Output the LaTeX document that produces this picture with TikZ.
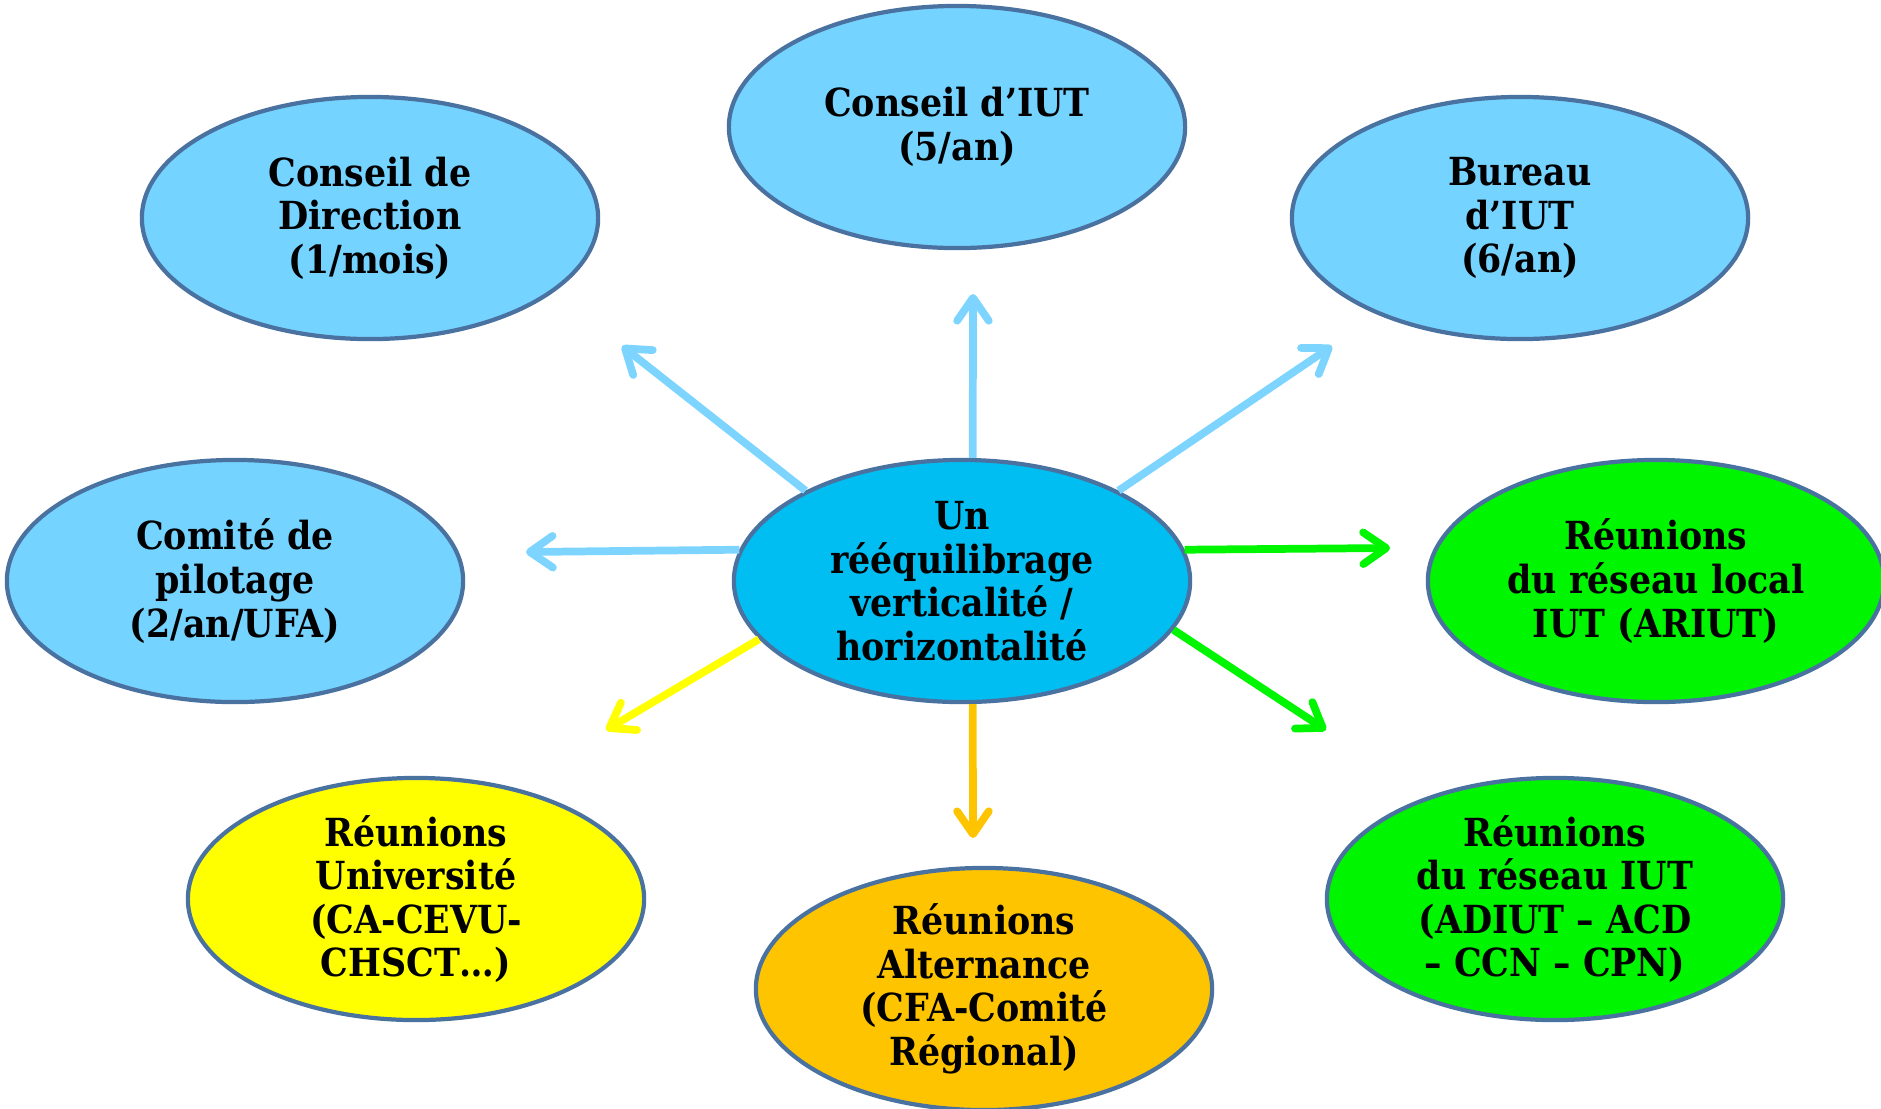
\documentclass[tikz,border=0pt]{standalone}
\usepackage{fontspec}
\setmainfont{DejaVu Serif Condensed}
\usetikzlibrary{arrows.meta,positioning,shapes.geometric}

\definecolor{bleuclair}{HTML}{75D3FF}
\definecolor{bleucentre}{HTML}{00BEF2}
\definecolor{bordure}{HTML}{4A72A0}
\definecolor{flechebleu}{HTML}{7DD5FF}
\definecolor{vertvif}{HTML}{00F500}
\definecolor{jaunevif}{HTML}{FFFF00}
\definecolor{ambre}{HTML}{FFC400}

\begin{document}
\begin{tikzpicture}[x=0.01cm,y=-0.01cm,
  bulle/.style={ellipse,draw=bordure,line width=1.2pt,minimum width=4.56cm,
    minimum height=2.42cm,inner sep=0pt,align=center,
    font=\fontsize{11}{12.4}\selectfont\bfseries},
  fleche/.style={line width=2.2pt,-{Straight Barb[length=6.5pt,width=9pt,round]}}]
\useasboundingbox (0,0) rectangle (1881,1108);

% Centre
\node[bulle,fill=bleucentre] (centre) at (962,581)
  {Un\\rééquilibrage\\verticalité /\\horizontalité};

% Instances
\node[bulle,fill=bleuclair] (direction) at (370,218) {Conseil de\\Direction\\(1/mois)};
\node[bulle,fill=bleuclair] (conseil) at (957,127) {Conseil d’IUT\\(5/an)};
\node[bulle,fill=bleuclair] (bureau) at (1520,218) {Bureau\\d’IUT\\(6/an)};
\node[bulle,fill=bleuclair] (pilotage) at (235,581) {Comité de\\pilotage\\(2/an/UFA)};
\node[bulle,fill=vertvif] (local) at (1656,581) {Réunions\\du réseau local\\IUT (ARIUT)};
\node[bulle,fill=jaunevif] (univ) at (416,899) {Réunions\\Université\\(CA-CEVU-\\CHSCT…)};
\node[bulle,fill=ambre] (alternance) at (984,989) {Réunions\\Alternance\\(CFA-Comité\\Régional)};
\node[bulle,fill=vertvif] (reseau) at (1555,899) {Réunions\\du réseau IUT\\(ADIUT – ACD\\– CCN – CPN)};

% Pointes des fleches
\coordinate (pDirection) at (622,346);
\coordinate (pConseil) at (973,294);
\coordinate (pBureau) at (1332,346);
\coordinate (pPilotage) at (526,552);
\coordinate (pLocal) at (1390,548);
\coordinate (pReseau) at (1326,730);
\coordinate (pUniv) at (606,730);
\coordinate (pAlternance) at (973,838);

% Fleches
\draw[fleche,flechebleu] (centre.150) -- (pDirection);
\draw[fleche,flechebleu] (centre.85) -- (pConseil);
\draw[fleche,flechebleu] (centre.30) -- (pBureau);
\draw[fleche,flechebleu] (centre.172.5) -- (pPilotage);
\draw[fleche,vertvif] (centre.8) -- (pLocal);
\draw[fleche,vertvif] (centre.-13) -- (pReseau);
\draw[fleche,jaunevif] (centre.196) -- (pUniv);
\draw[fleche,ambre] (centre.-85) -- (pAlternance);
\end{tikzpicture}
\end{document}
